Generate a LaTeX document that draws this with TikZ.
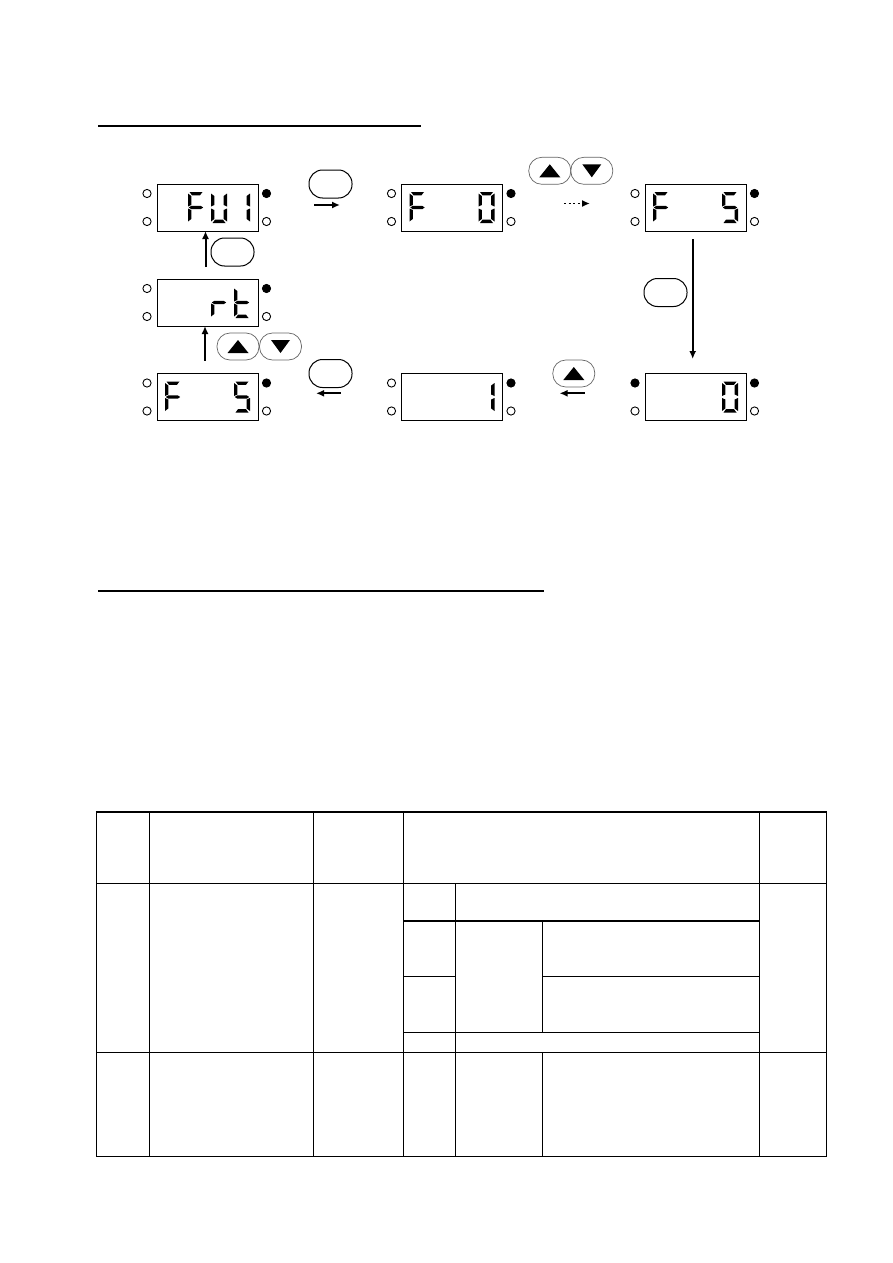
\documentclass[tikz,border=0pt]{standalone}
\usetikzlibrary{arrows.meta,calc}
\tikzset{
  disp/.style={draw=black,line width=1pt,minimum width=101pt,minimum height=47pt,inner sep=0pt,outer sep=0pt},
  led/.style={draw=black,line width=0.9pt,circle,minimum size=8.2pt,inner sep=0pt},
  ledon/.style={led,fill=black},
  btn/.style={draw=black,line width=1pt,rounded corners=13.5pt,minimum width=43pt,minimum height=28pt,inner sep=0pt},
  udbtn/.style={draw=black!60,line width=0.7pt,rounded corners=13pt,minimum width=42pt,minimum height=27pt,inner sep=0pt},
  arr/.style={line width=2pt,-{Latex[length=8pt,width=7pt]}},
  darr/.style={line width=1.7pt,dash pattern=on 2pt off 2.6pt,-{Latex[length=8pt,width=7pt]}},
  tline/.style={line width=1.3pt},
  rule/.style={line width=2.2pt}
}
\newcommand\dig[3]{%
  \begin{scope}[shift={(#1,#2)}]
  \foreach \s in {#3}{%
    \if a\s \fill (1.5,0) -- (14.5,0) -- (12,3.3) -- (4,3.3) -- cycle;\fi
    \if b\s \fill (16,1.5) -- (16,14.5) -- (12.7,13) -- (12.7,4) -- cycle;\fi
    \if c\s \fill (16,16.5) -- (16,29.5) -- (12.7,27) -- (12.7,18) -- cycle;\fi
    \if d\s \fill (1.5,31) -- (14.5,31) -- (12,27.7) -- (4,27.7) -- cycle;\fi
    \if e\s \fill (0,16.5) -- (0,29.5) -- (3.3,27) -- (3.3,18) -- cycle;\fi
    \if f\s \fill (0,1.5) -- (0,14.5) -- (3.3,13) -- (3.3,4) -- cycle;\fi
    \if g\s \fill (0.8,15.5) -- (3.3,13.8) -- (12.7,13.8) -- (15.2,15.5) -- (12.7,17.2) -- (3.3,17.2) -- cycle;\fi
  }
  \end{scope}}
\begin{document}
\begin{tikzpicture}[x=1pt,y=-1pt]
\useasboundingbox (0,0) rectangle (893,1263);
\fill[white] (0,0) rectangle (893,1263);

% rules
\draw[rule] (98,125.7) coordinate (r1a) -- (421,125.7) coordinate (r1b);
\draw[rule] (98,590.7) coordinate (r2a) -- (544,590.7) coordinate (r2b);

% displays
\foreach \nm/\x/\y/\lft in {dA/157/184/led, dB/401.5/184/led, dC/645/184/led, dD/157/279/led, dE/157/373.5/led, dF/401.5/373.5/led, dG/645/373.5/ledon}{
  \node[disp,anchor=north west] (\nm) at (\x,\y) {};
  \node[\lft] (\nm l1) at (\x-10,\y+9.5) {};
  \node[led] (\nm l2) at (\x-10,\y+37.5) {};
  \node[ledon] (\nm r1) at (\x+109.5,\y+9.5) {};
  \node[led] (\nm r2) at (\x+109.5,\y+37.5) {};
}

% digits  (cell offsets 8,31,54,77 ; y offset 8)
\dig{188}{192}{a,e,f,g}
\dig{211}{192}{b,c,d,e,f}
\dig{234}{192}{b,c}
\dig{409.5}{192}{a,e,f,g}
\dig{478.5}{192}{a,b,c,d,e,f}
\dig{653}{192}{a,e,f,g}
\dig{722}{192}{a,f,g,c,d}
\dig{211}{287}{e,g}
\dig{234}{287}{d,e,f,g}
\dig{165}{381.5}{a,e,f,g}
\dig{234}{381.5}{a,f,g,c,d}
\dig{478.5}{381.5}{b,c}
\dig{722}{381.5}{a,b,c,d,e,f}

% buttons
\node[btn] (b1) at (330.5,184) {};
\node[btn] (b2) at (232.5,252) {};
\node[btn] (b3) at (665.5,292.5) {};
\node[btn] (b4) at (330.5,373.5) {};
\node[udbtn] (u1) at (549.8,170.8) {};
\node[udbtn] (u2) at (591.8,170.8) {};
\node[udbtn] (u3) at (238,346.5) {};
\node[udbtn] (u4) at (280.5,346.5) {};
\node[udbtn] (u5) at (573.8,373.5) {};
% triangles
\foreach \n in {u1,u3,u5}{\fill ($(\n.center)+(-10.5,6.5)$) -- ($(\n.center)+(10.5,6.5)$) -- ($(\n.center)+(0,-6.5)$) -- cycle;}
\foreach \n in {u2,u4}{\fill ($(\n.center)+(-9.5,-6.5)$) -- ($(\n.center)+(9.5,-6.5)$) -- ($(\n.center)+(0,6.5)$) -- cycle;}

% arrows
\coordinate (a1s) at (314,205); \coordinate (a1e) at (340,205);
\draw[arr] (a1s) -- (a1e);
\coordinate (a2s) at (564,203.5); \coordinate (a2e) at (590,203.5);
\draw[darr] (a2s) -- (a2e);
\coordinate (a3s) at (692.7,239); \coordinate (a3e) at (692.7,359);
\draw[arr] (a3s) -- (a3e);
\coordinate (a4s) at (584.5,393.3); \coordinate (a4e) at (559.5,393.3);
\draw[arr] (a4s) -- (a4e);
\coordinate (a5s) at (340.5,393.3); \coordinate (a5e) at (316,393.3);
\draw[arr] (a5s) -- (a5e);
\coordinate (a6s) at (205,360.5);
\draw[arr] (a6s) -- (dD.south -| a6s);
\coordinate (a7s) at (205.5,267);
\draw[arr] (a7s) -- (dA.south -| a7s);

% table
\def\L{96.5}\def\R{826.7}\def\T{812.3}\def\B{1156.7}
\def\ca{149.5}\def\cb{313.3}\def\cc{403.3}\def\cd{455.7}\def\ce{542.3}\def\cf{759.3}
\def\H{883.3}\def\ra{921}\def\rb{976.3}\def\rc{1032.3}\def\rd{1052.3}
\draw[tline] (\L,\T) -- (\L,\B) -- (\R,\B) -- (\R,\T);
\draw[line width=2.2pt] (\L-0.6,\T) -- (\R+0.6,\T);
\draw[tline] (\L,\H) -- (\R,\H);
\draw[tline] (\L,\rd) -- (\R,\rd);
\draw[tline] (\cc,\ra) -- (\cf,\ra);
\draw[tline] (\cc,\rb) -- (\cd,\rb);
\draw[tline] (\ce,\rb) -- (\cf,\rb);
\draw[tline] (\cc,\rc) -- (\cf,\rc);
\draw[tline] (\ca,\T) -- (\ca,\B);
\draw[tline] (\cb,\T) -- (\cb,\B);
\draw[tline] (\cc,\T) -- (\cc,\B);
\draw[tline] (\cd,\H) -- (\cd,\B);
\draw[tline] (\ce,\ra) -- (\ce,\rc);
\draw[tline] (\ce,\rd) -- (\ce,\B);
\draw[tline] (\cf,\T) -- (\cf,\B);
\end{tikzpicture}
\end{document}
